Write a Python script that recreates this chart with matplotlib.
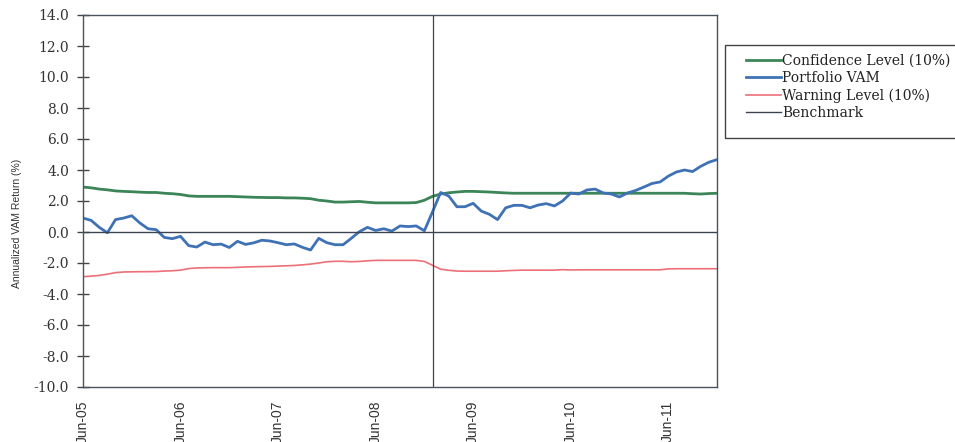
import matplotlib
matplotlib.use("Agg")
import matplotlib.pyplot as plt
from matplotlib.patches import Rectangle
import numpy as np

# monthly values, Jun-05 .. Dec-11
confidence = [2.9, 2.85, 2.77, 2.72, 2.65, 2.62, 2.6, 2.57, 2.55, 2.55,
              2.5, 2.47, 2.42, 2.33, 2.3, 2.3, 2.3, 2.3, 2.3, 2.28,
              2.26, 2.24, 2.23, 2.22, 2.22, 2.2, 2.2, 2.18, 2.15, 2.05,
              2.0, 1.93, 1.93, 1.95, 1.97, 1.92, 1.88, 1.88, 1.88, 1.88,
              1.88, 1.9, 2.05, 2.3, 2.45, 2.53, 2.58, 2.62, 2.62, 2.6,
              2.58, 2.55, 2.52, 2.5, 2.5, 2.5, 2.5, 2.5, 2.5, 2.5,
              2.5, 2.5, 2.5, 2.5, 2.5, 2.5, 2.5, 2.5, 2.5, 2.5,
              2.5, 2.5, 2.5, 2.5, 2.5, 2.47, 2.45, 2.48, 2.5]

portfolio = [0.9, 0.75, 0.3, -0.05, 0.8, 0.9, 1.05, 0.58, 0.21, 0.15,
             -0.35, -0.43, -0.28, -0.88, -0.97, -0.65, -0.82, -0.78, -1.0, -0.6,
             -0.8, -0.7, -0.53, -0.58, -0.69, -0.82, -0.77, -0.99, -1.16, -0.41,
             -0.69, -0.82, -0.82, -0.41, 0.02, 0.3, 0.1, 0.21, 0.06, 0.39,
             0.35, 0.39, 0.08, 1.3, 2.55, 2.32, 1.63, 1.63, 1.85, 1.35,
             1.14, 0.8, 1.56, 1.72, 1.72, 1.56, 1.74, 1.83, 1.68, 2.0,
             2.51, 2.45, 2.71, 2.77, 2.52, 2.45, 2.26, 2.52, 2.68, 2.9,
             3.13, 3.23, 3.6, 3.87, 4.0, 3.9, 4.24, 4.5, 4.67]

warning = [-2.88, -2.85, -2.8, -2.72, -2.62, -2.58, -2.57, -2.56, -2.56, -2.55,
           -2.52, -2.5, -2.46, -2.36, -2.32, -2.31, -2.3, -2.3, -2.3, -2.28,
           -2.26, -2.24, -2.23, -2.22, -2.2, -2.18, -2.16, -2.12, -2.07, -2.0,
           -1.92, -1.89, -1.89, -1.92, -1.9, -1.86, -1.83, -1.83, -1.83, -1.83,
           -1.83, -1.83, -1.9, -2.15, -2.4, -2.47, -2.52, -2.53, -2.53, -2.53,
           -2.53, -2.53, -2.5, -2.48, -2.46, -2.46, -2.46, -2.46, -2.46, -2.43,
           -2.45, -2.44, -2.44, -2.44, -2.44, -2.44, -2.44, -2.44, -2.44, -2.44,
           -2.44, -2.44, -2.38, -2.37, -2.37, -2.37, -2.37, -2.37, -2.37]

benchmark = [0.0] * len(portfolio)

tick_labels = ["Jun-05", "Jun-06", "Jun-07", "Jun-08", "Jun-09", "Jun-10", "Jun-11"]
tick_months = [0, 12, 24, 36, 48, 60, 72]
split_month = 43  # Jan-09

x = np.arange(len(portfolio))

W, H = 955, 442
fig = plt.figure(figsize=(W / 100, H / 100), dpi=100)
ax = fig.add_axes([83 / W, 1 - 387 / H, 634 / W, 372 / H])

ax.plot(x, confidence, color="#3b8558", lw=2.0, label="Confidence Level (10%)")
ax.plot(x, portfolio, color="#3f72b5", lw=2.0, label="Portfolio VAM")
ax.plot(x, warning, color="#ec7078", lw=1.2, label="Warning Level (10%)")
ax.plot(x, benchmark, color="#3c4452", lw=1.0, label="Benchmark")
ax.axvline(split_month, color="#3c4452", lw=0.9)

ax.set_xlim(0, len(portfolio) - 1)
ax.set_ylim(-10, 14)
ax.set_yticks(np.arange(-10, 15, 2))
ax.set_yticklabels(["%.1f" % v for v in np.arange(-10, 15, 2)],
                   family="DejaVu Serif", fontsize=10, color="#333333")
ax.set_xticks(tick_months)
ax.set_xticklabels(tick_labels, rotation=90, family="Liberation Sans",
                   fontsize=10, color="#333333")
ax.tick_params(axis="y", direction="inout", length=8, width=1, color="#444444", pad=6)
ax.tick_params(axis="x", length=0, pad=10)

for s in ax.spines.values():
    s.set_color("#4a5260")
    s.set_linewidth(1.0)

ax.set_ylabel("Annualized VAM Return (%)", family="Liberation Sans", fontsize=7.5,
              color="#333333")
ax.yaxis.set_label_coords(-0.097, 0.44)

# legend box drawn separately so the frame can run off the right edge
fig.patches.append(Rectangle((725 / W, 1 - 138 / H), 240 / W, 93 / H,
                             transform=fig.transFigure, fill=False,
                             edgecolor="#444444", lw=1.0))
leg = ax.legend(loc="upper left", bbox_to_anchor=(746 / W, 1 - 54 / H),
                bbox_transform=fig.transFigure, frameon=False,
                prop={"family": "DejaVu Serif", "size": 10}, handlelength=2.5,
                handletextpad=0.1, labelspacing=0.22, borderpad=0,
                borderaxespad=0)
for t in leg.get_texts():
    t.set_color("#222222")

fig.savefig("out.png", dpi=100)
